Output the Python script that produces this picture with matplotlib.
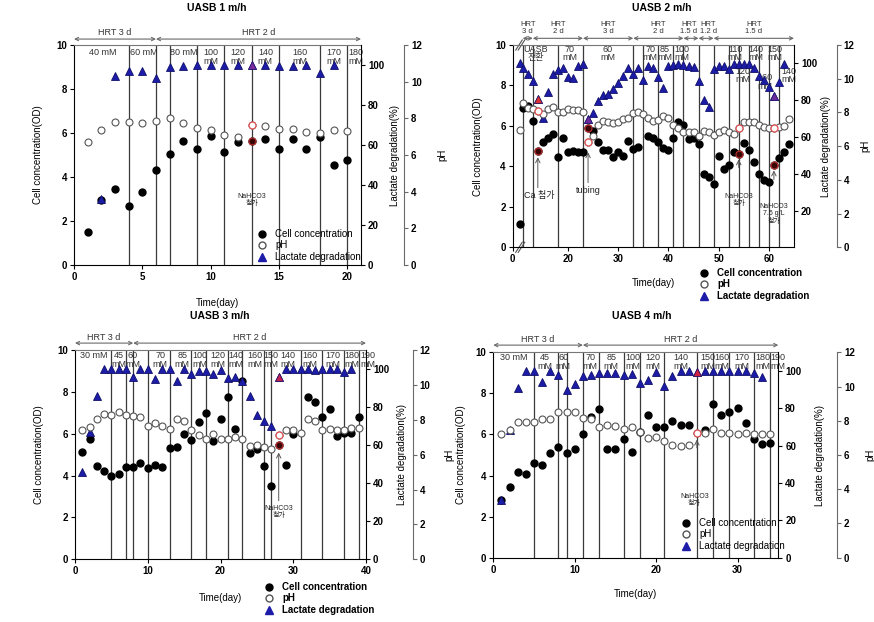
import numpy as np
import matplotlib
matplotlib.use('Agg')
import matplotlib.pyplot as plt
from matplotlib.lines import Line2D

plt.rcParams['font.family'] = ['Liberation Sans', 'Noto Sans CJK KR']
plt.rcParams['font.size'] = 7
plt.rcParams['font.weight'] = 'bold'
plt.rcParams['axes.unicode_minus'] = False

# ---------------- data ----------------
# UASB 1 m/h
p1_days = list(range(1, 21))
p1_cell = [1.52, 2.95, 3.47, 2.68, 3.33, 4.33, 5.05, 5.62, 5.26, 5.86,
           5.15, 5.59, 5.64, 5.74, 5.27, 5.73, 5.27, 5.83, 4.55, 4.77]
p1_ph = [6.69, 7.38, 7.78, 7.78, 7.73, 7.84, 8.04, 7.73, 7.45, 7.35,
         7.11, 7.0, 7.65, 7.58, 7.4, 7.42, 7.27, 7.22, 7.35, 7.33]
p1_lac = [np.nan, 32.8, 94.5, 97, 97, 93.3, 99.2, 99.5, 100, 100,
          100, 100, 100, 100, 99.7, 99.3, 100, 95.8, 100, np.nan]
p1_vlines = [4, 6, 7, 9, 11, 13, 15, 18, 20]
p1_hrt_edges = [0, 6, 21]
p1_hrt_labels = ['HRT 3 d', 'HRT 2 d']
p1_conc_x = [2.1, 5.1, 8.0, 10, 12, 14, 16.5, 19, 20.6]
p1_conc = ['40 mM', '60 mM', '80 mM', '100\nmM', '120\nmM', '140\nmM',
           '160\nmM', '170\nmM', '180\nmM']

# UASB 2 m/h (broken x axis, first point just after the break)
p2_days = [10.5] + list(range(11, 65))
p2_cell = [1.17, 6.9, 7.0, 6.24, 4.76, 5.22, 5.39, 5.62, 4.46, 5.39,
           4.7, 4.78, 4.73, 4.73, 5.88, 5.75, 5.19, 4.79, 4.83, 4.46,
           4.7, 4.5, 5.26, 4.86, 4.96, np.nan, 5.52, 5.39, 5.22, 4.93,
           4.83, 5.39, 6.18, 6.05, 5.35, 5.42, 5.12, 3.61, 3.48, 3.11,
           4.53, 3.87, 4.07, 4.7, 4.6, 5.16, 4.79, 4.23, 3.61, 3.34,
           3.21, 4.07, 4.4, 4.7, 5.09]
p2_ph = [6.94, 8.56, 8.24, 8.2, 8.08, 7.92, 8.2, 8.34, 8.04, 8.0,
         8.2, 8.12, 8.14, 8.04, 6.26, 6.62, 7.25, 7.49, 7.45, 7.37,
         7.45, 7.6, 7.69, 7.98, 8.0, 7.89, 7.65, 7.5, 7.53, 7.8,
         7.65, 7.25, 7.09, 6.82, 6.82, 6.82, 6.62, 6.9, 6.82, 6.66,
         6.86, 6.96, 6.82, 6.74, 7.09, 7.41, 7.41, 7.45, 7.25, 7.13,
         7.09, 7.09, 7.13, 7.21, 7.61]
p2_lac = [100, 97.7, 94, 90.4, 80.6, 70.1, 84.6, 94, 96.4, 97.3,
          92.6, 92.2, 98.4, 99.5, 69.8, 73.2, 79.6, 82.8, 83.2, 85.9,
          89.3, 93, 97.7, 94.4, 97.3, 91, 98.8, 97.7, 92.6, 86.4,
          98.8, 99.1, 99.9, 99.1, 98.6, 98, 90.4, 80.3, 76.3, 96.8,
          98.8, 98.8, 96.8, 99.9, 99.9, 99.9, 99.9, 97.3, 93, 91.2,
          87.2, 82.5, 89.7, 99.9, np.nan]
p2_vlines = [11, 13, 18, 23, 33, 35, 38, 41, 43, 46, 49, 52, 54, 56, 58, 60, 62]
p2_hrt_edges = [11, 13, 23, 33, 43, 46, 49, 65]
p2_hrt_labels = ['HRT\n3 d', 'HRT\n2 d', 'HRT\n3 d', 'HRT\n2 d',
                 'HRT\n1.5 d', 'HRT\n1.2 d', 'HRT\n1.5 d']
p2_hrt_shift = [0, 0, 0, 0, -0.4, 0.4, 0]
p2_conc_x = [13.5, 20.3, 27.9, 36.4, 39.3, 42.7, 53.3, 54.8, 57.5, 59.3, 61.1, 64]
p2_conc = ['UASB\n전환', '70\nmM', '60\nmM', '70\nmM', '85\nmM', '100\nmM',
           '110\nmM', '120\nmM', '140\nmM', '160\nmM', '150\nmM', '140\nmM']
p2_conc_drop = [0, 0, 0, 0, 0, 0, 0, 22, 0, 29, 0, 22]

# UASB 3 m/h
p3_days = list(range(1, 40))
p3_cell = [5.13, 5.76, 4.47, 4.2, 3.98, 4.08, 4.41, 4.43, 4.59, 4.38,
           4.49, 4.43, 5.3, 5.37, 5.99, 5.7, 6.58, 6.97, 5.67, 6.69,
           7.75, 6.21, 8.52, 5.06, 5.25, 4.44, 3.5, 5.45, 4.49, 5.97,
           np.nan, 7.75, 7.53, 6.78, 7.17, 5.89, 6.05, 6.02, 6.78]
p3_ph = [7.41, 7.57, 8.05, 8.35, 8.27, 8.45, 8.27, 8.2, 8.16, 7.64,
         7.83, 7.64, 7.49, 8.06, 7.95, 7.41, 7.13, 6.92, 7.17, 6.9,
         6.88, 7.03, 6.88, 6.52, 6.54, 6.46, 6.31, 7.13, 7.4, 7.41,
         7.26, 8.03, 7.95, 7.41, 7.45, 7.41, 7.41, 7.53, 7.51]
p3_lac = [45.7, 66.7, 86, 99.8, 99.8, 99.8, 99.8, 96, 99.8, 99.8,
          94.9, 99.8, 99.8, 93.7, 99.8, 97.3, 98.8, 98.8, 97.4, 99.5,
          95.1, 96, 93.9, 85.8, 76, 72.5, 70.1, 96, 99.8, 99.8,
          99.8, 99.8, 99.5, 99.8, 99.8, 99.8, 98.3, 99.8, np.nan]
p3_vlines = [5, 7, 8, 10, 13, 16, 18, 21, 23, 26, 27, 31, 34, 37, 39]
p3_hrt_edges = [0, 8, 40]
p3_hrt_labels = ['HRT 3 d', 'HRT 2 d']
p3_conc_x = [2.6, 6.0, 7.9, 11.7, 14.75, 17.2, 19.6, 22.1, 24.7, 26.9,
             29.3, 32.3, 35.5, 38.1, 40.2]
p3_conc = ['30 mM', '45\nmM', '60\nmM', '70\nmM', '85\nmM', '100\nmM',
           '120\nmM', '140\nmM', '160\nmM', '150\nmM', '140\nmM', '160\nmM',
           '170\nmM', '180\nmM', '190\nmM']

# UASB 4 m/h
p4_days = list(range(1, 35))
p4_cell = [2.81, 3.44, 4.17, 4.07, 4.59, 4.51, 5.11, 5.41, 5.08, 5.29,
           6.02, 6.85, 7.22, 5.28, 5.31, 5.8, 5.15, 6.1, 6.96, 6.38,
           6.38, 6.67, 6.46, 6.44, np.nan, 6.22, 7.5, 6.96, 7.09, 7.27,
           6.57, 5.8, 5.54, 5.6]
p4_ph = [7.23, 7.46, 7.93, 7.91, 7.93, 8.08, 8.12, 8.53, 8.51, 8.53,
         8.18, 8.12, 7.66, 7.73, 7.7, 7.5, 7.66, 7.34, 6.99, 7.07,
         6.84, 6.6, 6.53, 6.57, 7.31, 7.31, 7.54, 7.31, 7.27, 7.23,
         7.27, 7.23, 7.23, 7.21]
p4_lac = [30.9, 68.4, 91, 100, 100, 94.3, 100, 98, 89.8, 93,
          97.3, 98, 98.8, 98.8, 99, 98, 98.6, 93.4, 95.2, 99.5,
          92.1, 97.5, 100, 100, 99.6, 100, 100, 100, 100, 100,
          100, 99.1, 97, np.nan]
p4_vlines = [5, 8, 9, 11, 13, 16, 18, 21, 25, 27, 29, 32, 34]
p4_hrt_edges = [0, 11, 35]
p4_hrt_labels = ['HRT 3 d', 'HRT 2 d']
p4_conc_x = [2.5, 6.3, 8.6, 11.9, 14.5, 17.1, 19.6, 23, 26.3, 28.1, 30.5, 33.1, 35.0]
p4_conc = ['30 mM', '45\nmM', '60\nmM', '70\nmM', '85\nmM', '100\nmM',
           '120\nmM', '140\nmM', '150\nmM', '160\nmM', '170\nmM', '180\nmM', '190\nmM']

BLUE = '#1c1ca8'
VLINE = '#3a3a3a'
GRAY = '#6a6a6a'
TXT = '#333333'

W, H = 874, 622
fig = plt.figure(figsize=(8.74, 6.22), dpi=100)


def rect_px(l, t, r, b):
    return [l / W, 1 - b / H, (r - l) / W, (b - t) / H]


def panel(rect, title, title_xy, days, cell, ph, lac, xlim, vlines,
          ph_off, lac_lab_x, ph_lab_x, xlab_off):
    ax = fig.add_axes(rect)
    axl = ax.twinx()
    axp = ax.twinx()
    h_px = rect[3] * H

    ax.set_xlim(*xlim)
    ax.set_ylim(0, 10)
    axl.set_ylim(0, 110)
    axp.set_ylim(0, 12)

    for v in vlines:
        ax.axvline(v, color=VLINE, lw=0.9, zorder=1)

    ax.plot(days, cell, 'o', color='black', ms=5, zorder=3)
    axl.plot(days, lac, '^', color=BLUE, mec='#10106a', mew=0.6, ms=5.5)
    axp.plot(days, ph, 'o', mfc='white', mec='#555555', mew=0.8, ms=5)

    ax.set_yticks([0, 2, 4, 6, 8, 10])
    axl.set_yticks([0, 20, 40, 60, 80, 100])
    axp.set_yticks([0, 2, 4, 6, 8, 10, 12])

    for a in (ax, axl, axp):
        a.tick_params(direction='out', length=3, width=0.8, labelsize=7, pad=2)
    for s in ('top', 'left', 'bottom'):
        axl.spines[s].set_visible(False)
        axp.spines[s].set_visible(False)
    ax.spines['right'].set_visible(False)
    ax.spines['top'].set_color('#777777')
    axp.spines['right'].set_position(('axes', ph_off))
    axp.spines['right'].set_color(GRAY)
    axp.tick_params(axis='y', color=GRAY)

    ax.set_ylabel('Cell concentration(OD)', fontsize=7)
    ax.yaxis.set_label_coords(-0.107, 0.5)
    ax.set_xlabel('Time(day)', fontsize=7)
    ax.xaxis.set_label_coords(0.5, -xlab_off / h_px)
    axl.set_ylabel('Lactate degradation(%)', fontsize=7)
    axl.yaxis.set_label_coords(lac_lab_x, 0.5)
    axp.set_ylabel('pH', fontsize=7)
    axp.yaxis.set_label_coords(ph_lab_x, 0.5)

    fig.text(title_xy[0] / W, 1 - title_xy[1] / H, title, ha='center',
             va='center', fontsize=7.5, fontweight='bold')
    return ax, axl, axp


def hrt(ax, edges, labels, y_arrow, y_text, size=6.5, shifts=None):
    tr = ax.get_xaxis_transform()
    if shifts is None:
        shifts = [0] * len(labels)
    for x0, x1, lab, sh in zip(edges[:-1], edges[1:], labels, shifts):
        ax.annotate('', xy=(x1, y_arrow), xytext=(x0, y_arrow), xycoords=tr,
                    textcoords=tr, annotation_clip=False,
                    arrowprops=dict(arrowstyle='<->', color=GRAY, lw=0.8,
                                    shrinkA=0, shrinkB=0, mutation_scale=6))
        ax.text((x0 + x1) / 2 + sh, y_text, lab, transform=tr, ha='center',
                va='center', fontsize=size, fontweight='normal', color=TXT,
                linespacing=1.0, clip_on=False)


def conc(ax, xs, labels, drops=None, top_gap=1.5):
    tr = ax.get_xaxis_transform()
    h_px = ax.get_position().height * H
    if drops is None:
        drops = [0] * len(xs)
    for x, lab, d in zip(xs, labels, drops):
        ax.text(x, 1 - (top_gap + d) / h_px, lab, transform=tr, ha='center',
                va='top', fontsize=6.5, fontweight='normal', color=TXT,
                linespacing=0.95, clip_on=False)


def highlight(ax, axl, axp, days, cell, ph, lac, day, lac_color=None, cell_hl=True):
    i = days.index(day)
    if cell_hl:
        ax.plot(day, cell[i], 'o', mfc='#3a0505', mec='#c03030', mew=0.8, ms=5, zorder=4)
    axp.plot(day, ph[i], 'o', mfc='white', mec='#e05050', mew=0.9, ms=5)
    if lac_color is not None:
        axl.plot(day, lac[i], '^', color=lac_color, mec='#10106a', mew=0.4, ms=5.5)


def legend(ax, x_px, y_px, bold=False):
    handles = [Line2D([], [], ls='none', marker='o', color='black', ms=5),
               Line2D([], [], ls='none', marker='o', mfc='white', mec='#555555', ms=5),
               Line2D([], [], ls='none', marker='^', color=BLUE, ms=5.5)]
    ax.legend(handles, ['Cell concentration', 'pH', 'Lactate degradation'],
              loc='upper left', bbox_to_anchor=(x_px / W, 1 - y_px / H),
              bbox_transform=fig.transFigure, frameon=False, borderpad=0,
              borderaxespad=0, handlelength=1.0, handletextpad=0.9,
              labelspacing=0.15,
              prop={'size': 7, 'weight': 'bold' if bold else 'normal'})


def note(ax, x, y, s, size=5):
    ax.text(x, y, s, ha='center', va='center', fontsize=size,
            fontweight='normal', color='#222222', linespacing=1.1, zorder=5)


def arrow(ax, x, y0, y1):
    ax.annotate('', xy=(x, y1), xytext=(x, y0),
                arrowprops=dict(arrowstyle='->', color='#555555', lw=0.7,
                                mutation_scale=8, shrinkA=0, shrinkB=0))


# ---------------- panel 1 ----------------
ax1, ax1l, ax1p = panel(rect_px(74, 45, 361, 265), 'UASB 1 m/h', (217, 8),
                        p1_days, p1_cell, p1_ph, p1_lac, (0, 21), p1_vlines,
                        1.15, 1.101, 1.265, 33)
ax1.set_xticks([0, 5, 10, 15, 20])
hrt(ax1, p1_hrt_edges, p1_hrt_labels, 1.027, 1.055)
conc(ax1, p1_conc_x, p1_conc, top_gap=3)
highlight(ax1, ax1l, ax1p, p1_days, p1_cell, p1_ph, p1_lac, 13, lac_color='#7a2a9a')
note(ax1, 13, 2.95, 'NaHCO3\n첨가')
legend(ax1, 257, 229)

# ---------------- panel 2 ----------------
ax2, ax2l, ax2p = panel(rect_px(512.7, 45, 794, 247.3), 'UASB 2 m/h', (662, 8),
                        p2_days, p2_cell, p2_ph, p2_lac, (9, 65), p2_vlines,
                        1.152, 1.096, 1.237, 31)
ax2.set_xticks([9, 20, 30, 40, 50, 60])
ax2.set_xticklabels(['0', '20', '30', '40', '50', '60'])
ax2l.set_yticks([20, 40, 60, 80, 100])
hrt(ax2, p2_hrt_edges, p2_hrt_labels, 1.033, 1.085, size=5.5, shifts=p2_hrt_shift)
conc(ax2, p2_conc_x, p2_conc, p2_conc_drop, top_gap=-0.5)
highlight(ax2, ax2l, ax2p, p2_days, p2_cell, p2_ph, p2_lac, 14, lac_color='#d83030')
highlight(ax2, ax2l, ax2p, p2_days, p2_cell, p2_ph, p2_lac, 24, lac_color='#6a2a9a')
highlight(ax2, ax2l, ax2p, p2_days, p2_cell, p2_ph, p2_lac, 54)
highlight(ax2, ax2l, ax2p, p2_days, p2_cell, p2_ph, p2_lac, 61, lac_color='#6a2a9a')
# axis break marks
tr2 = ax2.get_xaxis_transform()
for yb in (0.0, 1.0):
    for dx in (0.0, 0.5):
        ax2.plot([9.6 + dx, 10.9 + dx], [yb - 0.025, yb + 0.025], color='#555555',
                 lw=0.8, transform=tr2, clip_on=False)
arrow(ax2, 14, 2.95, 4.45)
note(ax2, 14.2, 2.55, 'Ca 첨가', size=6.5)
arrow(ax2, 24, 3.2, 4.7)
note(ax2, 24, 2.8, 'tubing', size=6.5)
arrow(ax2, 54, 3.95, 4.35)
note(ax2, 54, 2.35, 'NaHCO3\n첨가')
arrow(ax2, 61, 3.35, 3.8)
note(ax2, 61, 1.65, 'NaHCO3\n7.5 g/L\n첨가')
legend(ax2, 699, 268, bold=True)

# ---------------- panel 3 ----------------
ax3, ax3l, ax3p = panel(rect_px(75, 350, 366, 559.3), 'UASB 3 m/h', (220, 316),
                        p3_days, p3_cell, p3_ph, p3_lac, (0, 40), p3_vlines,
                        1.16, 1.107, 1.268, 33.4)
ax3.set_xticks([0, 10, 20, 30, 40])
hrt(ax3, p3_hrt_edges, p3_hrt_labels, 1.033, 1.058)
conc(ax3, p3_conc_x, p3_conc, top_gap=1.5)
highlight(ax3, ax3l, ax3p, p3_days, p3_cell, p3_ph, p3_lac, 28, lac_color='#c02050')
arrow(ax3, 28, 2.8, 5.1)
note(ax3, 28, 2.25, 'NaHCO3\n첨가')
legend(ax3, 264, 582, bold=True)

# ---------------- panel 4 ----------------
ax4, ax4l, ax4p = panel(rect_px(493.3, 352.3, 778.3, 557.7), 'UASB 4 m/h', (641.7, 316),
                        p4_days, p4_cell, p4_ph, p4_lac, (0, 35), p4_vlines,
                        1.206, 1.129, 1.305, 31.6)
ax4.yaxis.set_label_coords(-0.095, 0.5)
ax4.set_xticks([0, 10, 20, 30])
hrt(ax4, p4_hrt_edges, p4_hrt_labels, 1.035, 1.063)
conc(ax4, p4_conc_x, p4_conc, top_gap=1)
highlight(ax4, ax4l, ax4p, p4_days, p4_cell, p4_ph, p4_lac, 25,
          lac_color='#d02040', cell_hl=False)
arrow(ax4, 25, 5.35, 5.75)
note(ax4, 24.7, 2.8, 'NaHCO3\n첨가')
legend(ax4, 681, 518)

fig.savefig('out.png', dpi=100)
